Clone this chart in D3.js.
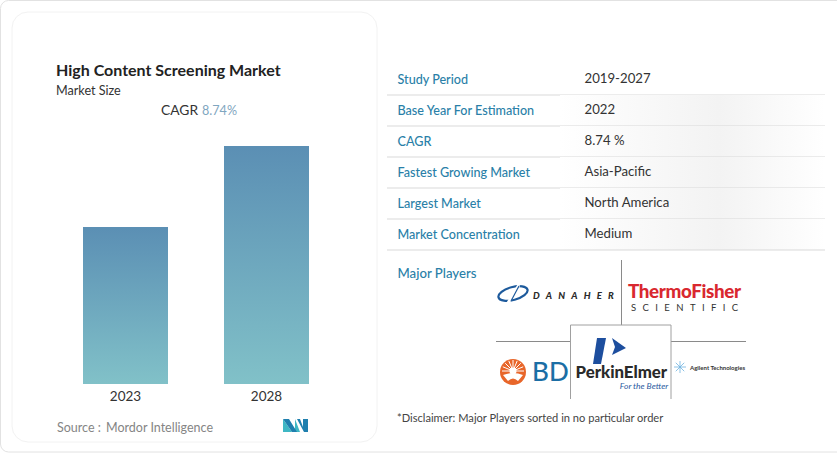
<!DOCTYPE html>
<html lang="en">
  <head>
    <meta charset="utf-8">
    <title>High Content Screening Market</title>
    <script src="https://cdn.jsdelivr.net/npm/d3@7"></script>
    <style>
        body { margin: 0; background: #fff; }
        svg { display: block; font-family: Lato, sans-serif; }
    </style>
  </head>
  <body>
    <div id="chart"></div>
    <script>
    // values are relative, the picture has no value axis (2023 = 1)
    var years = ["2023", "2028"];
    var marketSize = [1.0, 1.516];
    var rowLabels = ["Study Period", "Base Year For Estimation", "CAGR", "Fastest Growing Market", "Largest Market", "Market Concentration"];
    var rowValues = ["2019-2027", "2022", "8.74 %", "Asia-Pacific", "North America", "Medium"];

    var width = 837, height = 454;
    var svg = d3.select("#chart").append("svg").attr("width", width).attr("height", height);

    var defs = svg.append("defs");
    var grad = defs.append("linearGradient").attr("id", "barFill").attr("x1", 0).attr("y1", 0).attr("x2", 0).attr("y2", 1);
    grad.append("stop").attr("offset", "0%").attr("stop-color", "#5b8fb4");
    grad.append("stop").attr("offset", "100%").attr("stop-color", "#81c1c8");
    var rowGrad = defs.append("linearGradient").attr("id", "rowFill");
    rowGrad.append("stop").attr("offset", "0%").attr("stop-color", "#fff");
    rowGrad.append("stop").attr("offset", "60%").attr("stop-color", "#f3f3f3");
    rowGrad.append("stop").attr("offset", "100%").attr("stop-color", "#fff");

    // page frame and left card
    svg.append("rect").attr("x", 0.5).attr("y", 0.5).attr("width", width + 20).attr("height", 451.5)
        .attr("rx", 8).attr("fill", "#fff").attr("stroke", "#e2e2e2");
    svg.append("rect").attr("x", 12).attr("y", 12).attr("width", 365).attr("height", 430)
        .attr("rx", 16).attr("fill", "#fff").attr("stroke", "#f2f2f2");

    function label(x, y, s, size, color, anchor, weight) {
        return svg.append("text").attr("x", x).attr("y", y).text(s)
            .attr("font-size", size).attr("fill", color)
            .attr("text-anchor", anchor || "start").attr("font-weight", weight || 400);
    }

    label(56, 75.5, "High Content Screening Market", 16, "#222", "start", 700);
    label(56, 95, "Market Size", 12.6, "#333");
    label(161, 115, "CAGR", 13.8, "#333");
    label(202, 115, "8.74%", 12.6, "#7fa6c0");

    // bars
    var x = d3.scaleBand().domain(years).range([83, 309]).paddingInner(56 / 141).paddingOuter(0);
    var y = d3.scaleLinear().domain([0, d3.max(marketSize)]).range([384, 146]);

    svg.selectAll(".bar").data(years).enter().append("rect")
        .attr("class", "bar")
        .attr("x", function(d) { return x(d); })
        .attr("width", x.bandwidth())
        .attr("y", function(d, i) { return y(marketSize[i]); })
        .attr("height", function(d, i) { return y(0) - y(marketSize[i]); })
        .attr("fill", "url(#barFill)");

    var xAxis = svg.append("g").attr("transform", "translate(0,384)")
        .call(d3.axisBottom(x).tickSize(0).tickPadding(7));
    xAxis.select(".domain").remove();
    xAxis.selectAll("text").attr("font-family", "Lato, sans-serif").attr("font-size", 13.5).attr("fill", "#333");

    label(57, 432, "Source :", 12.5, "#858585");
    label(106, 432, "Mordor Intelligence", 12.5, "#858585");

    // mordor logo
    var mark = svg.append("g").attr("transform", "translate(283,419)");
    mark.append("path").attr("d", "M0 13V0L9 13Z M12 13V0L17 13Z").attr("fill", "#3fb7c4");
    mark.append("path").attr("d", "M0 0H6L14 13H9Z M14 0L21 13H25V0H20V8L17 0Z").attr("fill", "#1f7fae");

    // info table
    var rowY = d3.scaleBand().domain(rowLabels).range([64, 250]);
    rowLabels.forEach(function(d, i) {
        var top = rowY(d), h = rowY.bandwidth();
        if (i > 0) svg.append("rect").attr("x", 560).attr("y", top).attr("width", 265).attr("height", h).attr("fill", "url(#rowFill)");
        svg.append("line").attr("x1", 387).attr("x2", 825).attr("y1", top + h).attr("y2", top + h)
            .attr("stroke", "#d9d9d9").attr("stroke-width", 1);
        label(397.5, top + 20, d, 12.6, "#2a7fa8", "start", 500);
        label(584.5, top + 18.5, rowValues[i], 13.2, "#333");
    });

    label(397.5, 278, "Major Players", 13.2, "#2a7fa8", "start", 500);

    // logo grid
    var grid = svg.append("g").attr("stroke", "#8a8a8a").attr("fill", "none");
    grid.append("line").attr("x1", 621.5).attr("x2", 621.5).attr("y1", 260).attr("y2", 325);
    grid.append("line").attr("x1", 496).attr("x2", 571).attr("y1", 341.5).attr("y2", 341.5);
    grid.append("line").attr("x1", 671).attr("x2", 746).attr("y1", 341.5).attr("y2", 341.5);
    grid.append("path").attr("d", "M570.5 399V325H671V399").attr("stroke", "#a0a0a0");

    // danaher
    var dan = svg.append("g");
    dan.append("ellipse").attr("cx", 513).attr("cy", 293.5).attr("rx", 15).attr("ry", 6.5)
        .attr("transform", "rotate(-15 513 293.5)").attr("fill", "none").attr("stroke", "#1d5a9c").attr("stroke-width", 2.2);
    dan.append("path").attr("d", "M508 303L519 285").attr("stroke", "#fff").attr("stroke-width", 3);
    dan.append("path").attr("d", "M511 301L519 286").attr("stroke", "#1d5a9c").attr("stroke-width", 1.2);
    label(533, 298.5, "DANAHER", 9.5, "#2b2b2b", "start", 900).attr("font-style", "italic").attr("letter-spacing", 6.2);

    // thermo fisher
    label(628, 297.5, "ThermoFisher", 18.8, "#d9282f", "start", 900).attr("letter-spacing", -0.35);
    label(631, 311, "SCIENTIFIC", 9.5, "#333", "start", 400).attr("letter-spacing", 6.4);

    // bd
    var burst = svg.append("g");
    burst.append("circle").attr("cx", 513).attr("cy", 372).attr("r", 13).attr("fill", "#e8662a");
    d3.range(9).forEach(function(i) {
        var a = Math.PI + i * Math.PI / 8;
        burst.append("line").attr("x1", 513).attr("y1", 371)
            .attr("x2", 513 + 11 * Math.cos(a)).attr("y2", 371 + 11 * Math.sin(a))
            .attr("stroke", "#fff").attr("stroke-width", 1);
    });
    burst.append("circle").attr("cx", 513).attr("cy", 371).attr("r", 3.5).attr("fill", "#fff");
    burst.append("path").attr("d", "M503 375Q513 371 523 375L518 381Q513 376 508 381Z").attr("fill", "#fff");
    label(532, 381, "BD", 26, "#1b6ea5", "start", 500);

    // perkinelmer
    svg.append("path").attr("d", "M597 338H606L601 364H593Z").attr("fill", "#1d4e9e");
    svg.append("path").attr("d", "M612 338L626 348L612 355L615 347Z").attr("fill", "#1d4e9e");
    label(575.5, 378, "PerkinElmer", 16.8, "#2a2a2a", "start", 900);
    label(644, 388.5, "For the Better", 8.5, "#2a5aa0", "middle").attr("font-style", "italic");

    // agilent
    var spark = svg.append("g").attr("stroke", "#6fb3e0").attr("stroke-width", 0.8);
    d3.range(8).forEach(function(i) {
        var a = i * Math.PI / 4;
        spark.append("line").attr("x1", 680).attr("y1", 367).attr("x2", 680 + 6 * Math.cos(a)).attr("y2", 367 + 6 * Math.sin(a));
    });
    label(690, 369.5, "Agilent Technologies", 6, "#333", "start", 700);

    label(397, 422, "*Disclaimer: Major Players sorted in no particular order", 11.1, "#444");
    </script>
  </body>
</html>
